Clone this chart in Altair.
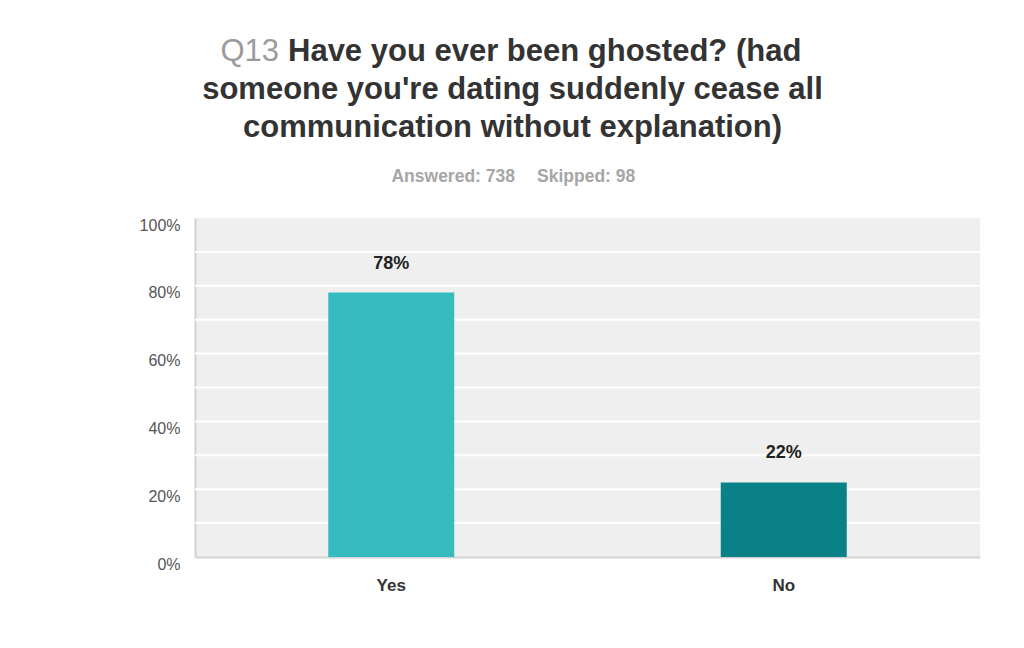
import altair as alt
import pandas as pd

# ---- data ----
categories = ["Yes", "No"]
percents = [78, 22]
bar_colors = ["#36bcbe", "#0a8187"]

title_prefix = "Q13"
title_line1 = "Have you ever been ghosted? (had"
title_line2 = "someone you're dating suddenly cease all"
title_line3 = "communication without explanation)"
answered_text = "Answered: 738"
skipped_text = "Skipped: 98"
y_label_values = [0, 20, 40, 60, 80, 100]
grid_values = [10, 20, 30, 40, 50, 60, 70, 80, 90]

FONT = "Liberation Sans"

df = pd.DataFrame({"answer": categories, "pct": percents, "color": bar_colors})
grid_df = pd.DataFrame({"g": grid_values})

x_enc = alt.X(
    "answer:N",
    sort=categories,
    scale=alt.Scale(paddingInner=0, paddingOuter=0),
    axis=alt.Axis(
        title=None, labelAngle=0, ticks=False, labelPadding=20,
        labelFont=FONT, labelFontSize=17, labelFontWeight="bold",
        labelColor="#333333", domainColor="#d2d2d2", domainWidth=2,
        labelBaseline="top",
    ),
)
y_enc = alt.Y(
    "pct:Q",
    scale=alt.Scale(domain=[0, 100], nice=False),
    axis=alt.Axis(
        title=None, values=y_label_values, ticks=False, grid=False,
        labelExpr="datum.value + '%'",
        labelFont=FONT, labelFontSize=16, labelColor="#555555",
        labelPadding=15, labelOffset=12, labelBaseline="alphabetic",
        domainColor="#d2d2d2", domainWidth=2,
    ),
)

grid = alt.Chart(grid_df).mark_rule(color="#ffffff", strokeWidth=2).encode(
    y=alt.Y("g:Q", scale=alt.Scale(domain=[0, 100], nice=False))
)

bars = alt.Chart(df).mark_bar(size=126).encode(
    x=x_enc,
    y=y_enc,
    color=alt.Color("color:N", scale=None, legend=None),
)

labels = alt.Chart(df).transform_calculate(
    label="datum.pct + '%'"
).mark_text(
    dy=-24, baseline="alphabetic", font=FONT, fontSize=18,
    fontWeight="bold", color="#222222",
).encode(
    x=alt.X("answer:N", sort=categories),
    y="pct:Q",
    text="label:N",
)


def text_layer(txt, x, y, size, weight, color, align):
    return alt.Chart(pd.DataFrame({"t": [txt]})).mark_text(
        font=FONT, fontSize=size, fontWeight=weight, color=color,
        align=align, baseline="alphabetic",
    ).encode(x=alt.value(x), y=alt.value(y), text="t:N")


titles = [
    text_layer(title_prefix, 84, -157, 31, "normal", "#9b9b9b", "right"),
    text_layer(title_line1, 93, -157, 31, "bold", "#333333", "left"),
    text_layer(title_line2, 317.5, -119, 31, "bold", "#333333", "center"),
    text_layer(title_line3, 317.5, -81, 31, "bold", "#333333", "center"),
    text_layer(answered_text, 320, -36, 17.5, "bold", "#a6a6a6", "right"),
    text_layer(skipped_text, 342, -36, 17.5, "bold", "#a6a6a6", "left"),
]

chart = alt.layer(grid, bars, labels, *titles).properties(
    width=785,
    height=339,
    autosize=alt.AutoSizeParams(type="none"),
    padding={"left": 187, "top": 210, "right": 36, "bottom": 80},
    background="#ffffff",
).configure_view(
    stroke=None, fill="#efefef"
)

chart.save("out.html", embed_options={"renderer": "svg", "actions": False})
